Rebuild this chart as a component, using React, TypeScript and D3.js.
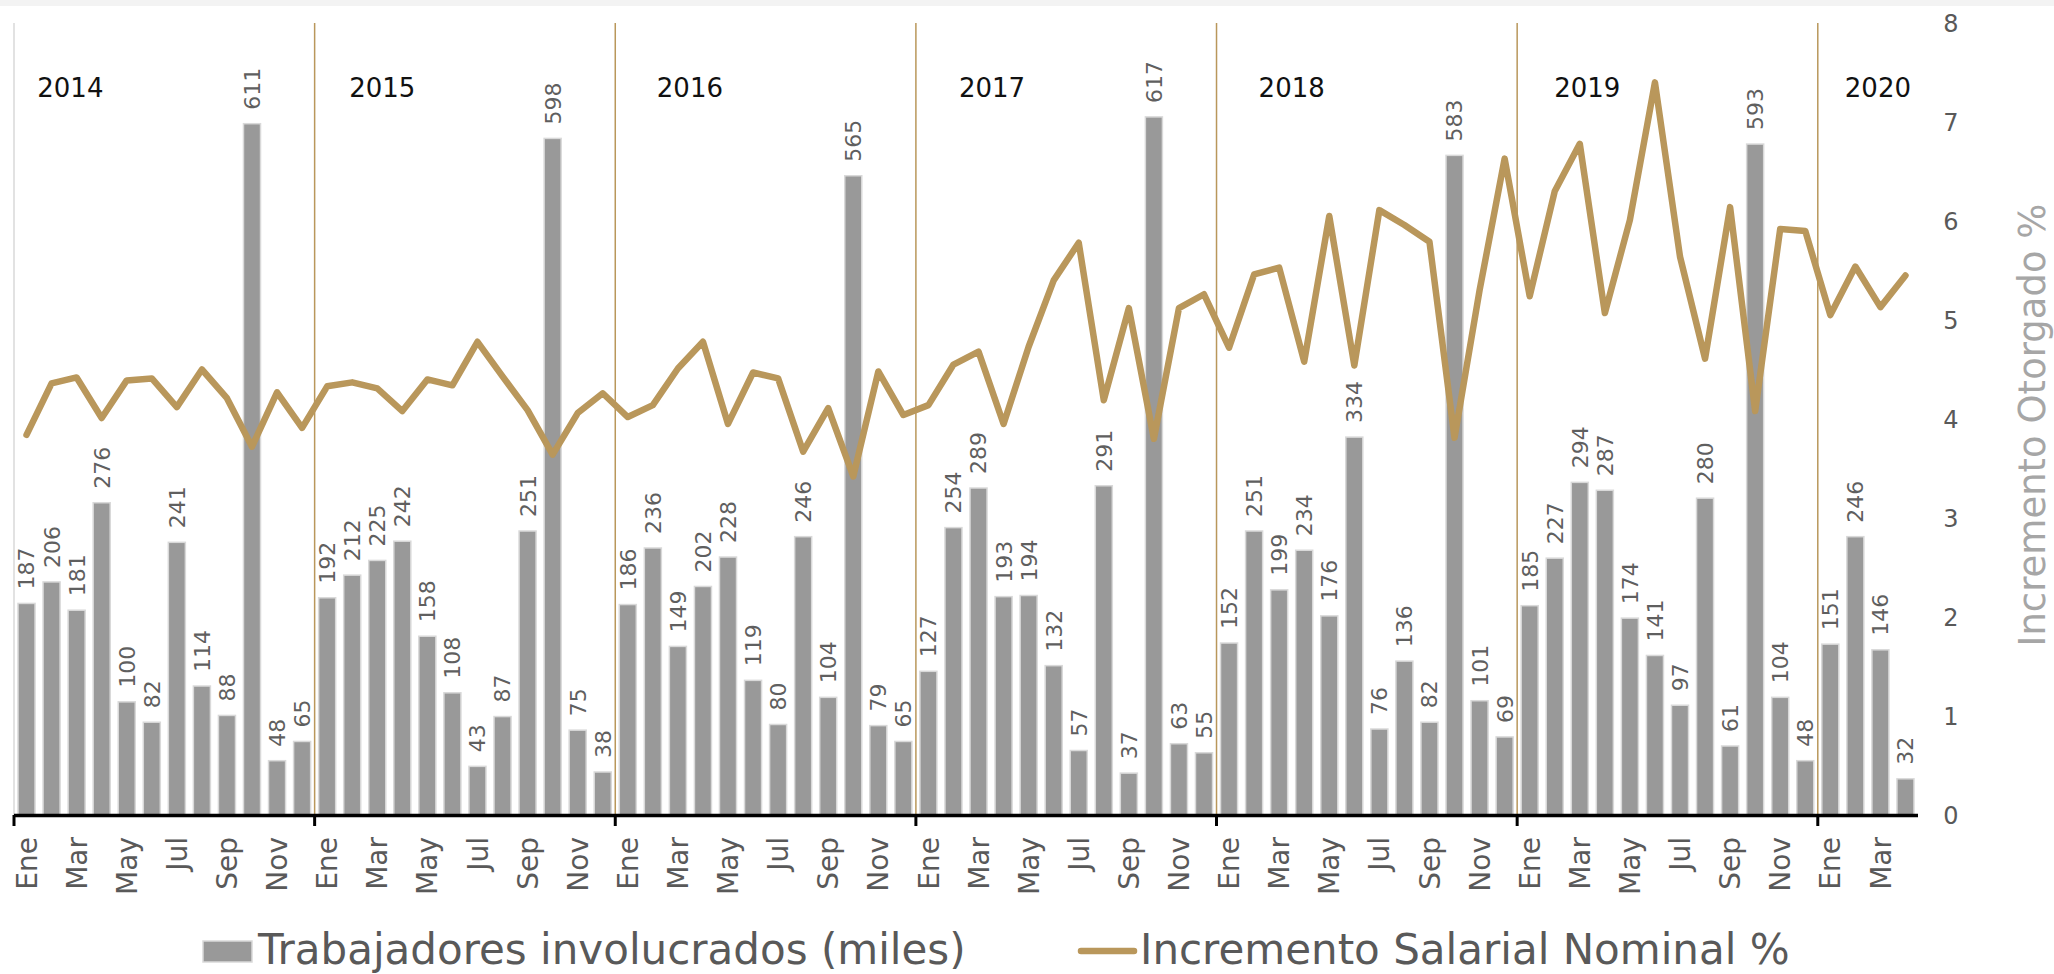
import React from "react";
import * as d3 from "d3";

// ---------- DATA ----------
const years = [2014, 2015, 2016, 2017, 2018, 2019, 2020];
const monthNames = ["Ene", "Feb", "Mar", "Abr", "May", "Jun", "Jul", "Ago", "Sep", "Oct", "Nov", "Dic"];
const monthsInLastYear = 4;

// Trabajadores involucrados (miles)
const trabajadores2014 = [187, 206, 181, 276, 100, 82, 241, 114, 88, 611, 48, 65];
const trabajadores2015 = [192, 212, 225, 242, 158, 108, 43, 87, 251, 598, 75, 38];
const trabajadores2016 = [186, 236, 149, 202, 228, 119, 80, 246, 104, 565, 79, 65];
const trabajadores2017 = [127, 254, 289, 193, 194, 132, 57, 291, 37, 617, 63, 55];
const trabajadores2018 = [152, 251, 199, 234, 176, 334, 76, 136, 82, 583, 101, 69];
const trabajadores2019 = [185, 227, 294, 287, 174, 141, 97, 280, 61, 593, 104, 48];
const trabajadores2020 = [151, 246, 146, 32];

// Incremento Salarial Nominal %
const incremento2014 = [3.84, 4.36, 4.42, 4.01, 4.39, 4.41, 4.12, 4.5, 4.21, 3.72, 4.27, 3.91];
const incremento2015 = [4.33, 4.37, 4.31, 4.08, 4.4, 4.34, 4.78, 4.43, 4.09, 3.64, 4.06, 4.26];
const incremento2016 = [4.02, 4.14, 4.51, 4.78, 3.95, 4.47, 4.41, 3.67, 4.11, 3.42, 4.48, 4.04];
const incremento2017 = [4.14, 4.55, 4.68, 3.95, 4.73, 5.4, 5.78, 4.19, 5.12, 3.8, 5.12, 5.26];
const incremento2018 = [4.72, 5.46, 5.53, 4.58, 6.05, 4.54, 6.11, 5.96, 5.79, 3.81, 5.3, 6.63];
const incremento2019 = [5.24, 6.3, 6.78, 5.07, 6.01, 7.4, 5.64, 4.61, 6.14, 4.08, 5.92, 5.9];
const incremento2020 = [5.05, 5.54, 5.13, 5.45];

const rightTicks = [0, 1, 2, 3, 4, 5, 6, 7, 8];
const leftMax = 700;
const rightMax = 8;

const legendBars = "Trabajadores involucrados (miles)";
const legendLine = "Incremento Salarial Nominal %";
const rightTitle = "Incremento Otorgado %";

// ---------- LAYOUT ----------
const W = 2054;
const H = 974;
const X0 = 14;
const X1 = 1918;
const YTOP = 23;
const YBOT = 815;
const FONT = "'DejaVu Sans', sans-serif";
const GOLD = "#b9975b";
const BAR = "#999999";
const BAR_EDGE = "#d9d9d9";
const TXT = "#595959";
// horizontal position of each year label, in months from the year's start
const yearLabelOffsets = [2.25, 2.7, 2.98, 3.04, 3.0, 2.8, 2.4];

const trabajadores = [
  ...trabajadores2014, ...trabajadores2015, ...trabajadores2016, ...trabajadores2017,
  ...trabajadores2018, ...trabajadores2019, ...trabajadores2020,
];
const incremento = [
  ...incremento2014, ...incremento2015, ...incremento2016, ...incremento2017,
  ...incremento2018, ...incremento2019, ...incremento2020,
];
const categories: { year: number; month: string; m: number }[] = [];
years.forEach((y, yi) => {
  const n = yi === years.length - 1 ? monthsInLastYear : 12;
  for (let m = 0; m < n; m++) categories.push({ year: y, month: monthNames[m], m });
});

export default function App() {
  const pad = 0.32;
  const x = d3
    .scaleBand<number>()
    .domain(d3.range(categories.length))
    .range([X0, X1])
    .paddingInner(pad)
    .paddingOuter(pad / 2);
  const step = x.step();
  const bw = x.bandwidth();
  const cx = (i: number) => (x(i) as number) + bw / 2;
  const yL = d3.scaleLinear().domain([0, leftMax]).range([YBOT, YTOP]);
  const yR = d3.scaleLinear().domain([0, rightMax]).range([YBOT, YTOP]);
  const line = d3
    .line<number>()
    .x((_, i) => cx(i))
    .y((d) => yR(d));

  const boundaries = years.map((_, k) => X0 + k * 12 * step);

  return (
    <div style={{ position: "absolute", left: 0, top: 0 }}>
      <svg width={W} height={H} style={{ display: "block", background: "#fff" }}>
        <rect x={0} y={0} width={W} height={H} fill="#ffffff" />
        <rect x={0} y={0} width={W} height={6} fill="#f3f3f3" />

        {/* left axis line */}
        <line x1={X0} x2={X0} y1={YTOP} y2={YBOT} stroke="#d9d9d9" strokeWidth={1.5} />

        {/* year dividers */}
        {boundaries.slice(1).map((bx, k) => (
          <line key={"div" + k} x1={bx} x2={bx} y1={YTOP} y2={YBOT} stroke={GOLD} strokeWidth={1.5} />
        ))}

        {/* bars */}
        {trabajadores.map((v, i) => (
          <rect
            key={"b" + i}
            x={x(i) as number}
            y={yL(v)}
            width={bw}
            height={YBOT - yL(v)}
            fill={BAR}
            stroke={BAR_EDGE}
            strokeWidth={1.5}
          />
        ))}

        {/* bar labels */}
        {trabajadores.map((v, i) => (
          <text
            key={"bl" + i}
            transform={`translate(${cx(i)},${yL(v) - 14}) rotate(-90)`}
            textAnchor="start"
            dy="0.36em"
            fontFamily={FONT}
            fontSize={22}
            fill="#5f5f5f"
          >
            {v}
          </text>
        ))}

        {/* year labels */}
        {years.map((yr, k) => (
          <text
            key={"yr" + yr}
            x={X0 + (k * 12 + yearLabelOffsets[k]) * step}
            y={97}
            textAnchor="middle"
            fontFamily={FONT}
            fontSize={26}
            fill="#111"
          >
            {yr}
          </text>
        ))}

        {/* line */}
        <path
          d={line(incremento) || ""}
          fill="none"
          stroke={GOLD}
          strokeWidth={6.5}
          strokeLinejoin="round"
          strokeLinecap="round"
        />

        {/* x axis */}
        <line x1={X0} x2={X1} y1={YBOT + 0.5} y2={YBOT + 0.5} stroke="#000" strokeWidth={3.5} />
        {boundaries.map((bx, k) => (
          <line key={"t" + k} x1={bx} x2={bx} y1={YBOT} y2={YBOT + 11} stroke="#000" strokeWidth={3} />
        ))}
        {categories.map((c, i) =>
          c.m % 2 === 0 ? (
            <text
              key={"ml" + i}
              transform={`translate(${cx(i)},${YBOT + 22}) rotate(-90)`}
              textAnchor="end"
              dy="0.36em"
              fontFamily={FONT}
              fontSize={28}
              fill={TXT}
            >
              {c.month}
            </text>
          ) : null
        )}

        {/* right axis */}
        {rightTicks.map((t) => (
          <text
            key={"r" + t}
            x={1951}
            y={yR(t)}
            dy="0.36em"
            textAnchor="middle"
            fontFamily={FONT}
            fontSize={24}
            fill={TXT}
          >
            {t}
          </text>
        ))}
        <text
          transform={`translate(2045,425) rotate(-90)`}
          textAnchor="middle"
          fontFamily={FONT}
          fontSize={37}
          fill="#a6a6a6"
        >
          {rightTitle}
        </text>

        {/* legend */}
        <rect x={203} y={941} width={49} height={21} fill={BAR} stroke={BAR_EDGE} strokeWidth={1.5} />
        <text x={258} y={964} fontFamily={FONT} fontSize={42} fill={TXT}>
          {legendBars}
        </text>
        <line x1={1081} x2={1134} y1={951} y2={951} stroke={GOLD} strokeWidth={6.5} strokeLinecap="round" />
        <text x={1140} y={964} fontFamily={FONT} fontSize={42} fill={TXT}>
          {legendLine}
        </text>
      </svg>
    </div>
  );
}
